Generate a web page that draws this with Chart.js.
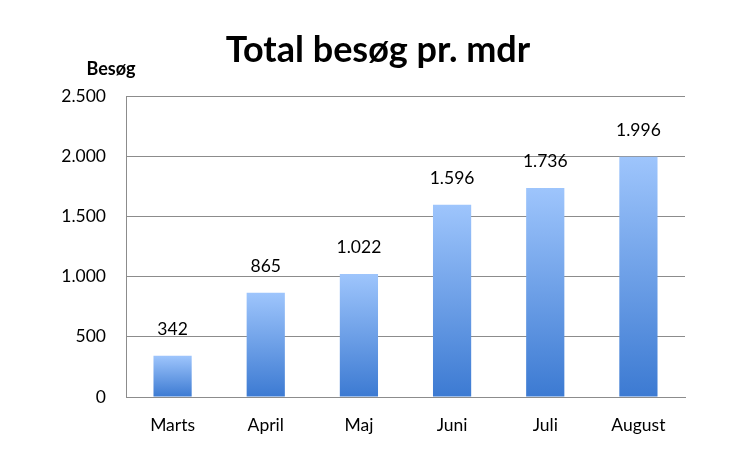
<!DOCTYPE html>
<html><head><meta charset="utf-8">
<script src="https://cdn.jsdelivr.net/npm/chart.js@4/dist/chart.umd.min.js"></script>
<style>html,body{margin:0;padding:0;background:#fff}#wrap{width:750px;height:451px}</style>
</head><body><div id="wrap"><canvas id="c" width="750" height="451"></canvas></div>
<script>
const categories = ["Marts", "April", "Maj", "Juni", "Juli", "August"];
const visits = [342, 865, 1022, 1596, 1736, 1996];
const chartTitle = "Total besøg pr. mdr";
const yAxisTitle = "Besøg";

const FONT = "Lato, 'Liberation Sans', sans-serif";
function fmt(v){ return String(Math.round(v)).replace(/\B(?=(\d{3})+(?!\d))/g, "."); }

const labelsPlugin = {
  id: 'extras',
  afterDatasetsDraw(chart){
    const ctx = chart.ctx;
    const meta = chart.getDatasetMeta(0);
    ctx.save();
    ctx.fillStyle = '#000';
    ctx.font = "17.5px " + FONT;
    ctx.textAlign = 'center';
    ctx.textBaseline = 'alphabetic';
    meta.data.forEach((bar, i) => {
      ctx.fillText(fmt(visits[i]), bar.x, bar.y - 21);
    });
    ctx.font = "bold 36px " + FONT;
    ctx.fillText(chartTitle, 378, 62);
    ctx.font = "bold 18px " + FONT;
    ctx.fillText(yAxisTitle, 111, 75);
    ctx.restore();
  }
};

const ctx = document.getElementById('c').getContext('2d');
new Chart(ctx, {
  type: 'bar',
  data: {
    labels: categories,
    datasets: [{
      data: visits,
      borderWidth: 0,
      categoryPercentage: 1,
      barPercentage: 0.41,
      backgroundColor(c){
        const chart = c.chart;
        const ys = chart.scales.y;
        if (!chart.chartArea || !ys || c.raw === undefined) return '#6a9de8';
        const top = ys.getPixelForValue(c.raw);
        const bot = ys.getPixelForValue(0);
        if (!isFinite(top) || !isFinite(bot) || top === bot) return '#6a9de8';
        const g = chart.ctx.createLinearGradient(0, top, 0, bot);
        g.addColorStop(0, '#9ec5fc');
        g.addColorStop(1, '#3c7ad2');
        return g;
      }
    }]
  },
  options: {
    responsive: false,
    animation: false,
    layout: { padding: { left: 0, right: 65, top: 96, bottom: 0 } },
    plugins: { legend: { display: false }, title: { display: false }, tooltip: { enabled: false } },
    scales: {
      x: {
        grid: { display: false, drawTicks: false },
        border: { display: true, color: '#8c8c8c', width: 1 },
        ticks: { color: '#000', font: { family: FONT, size: 17.5 }, padding: 18 },
        afterFit(s){ s.height = 54; }
      },
      y: {
        min: 0, max: 2500,
        grid: { color: '#8c8c8c', drawTicks: false, lineWidth: 1 },
        border: { display: true, color: '#8c8c8c', width: 1 },
        ticks: { stepSize: 500, color: '#000', font: { family: FONT, size: 17.5 }, padding: 20, callback: v => fmt(v) },
        afterFit(s){ s.width = 126; }
      }
    }
  },
  plugins: [labelsPlugin]
});
</script></body></html>
